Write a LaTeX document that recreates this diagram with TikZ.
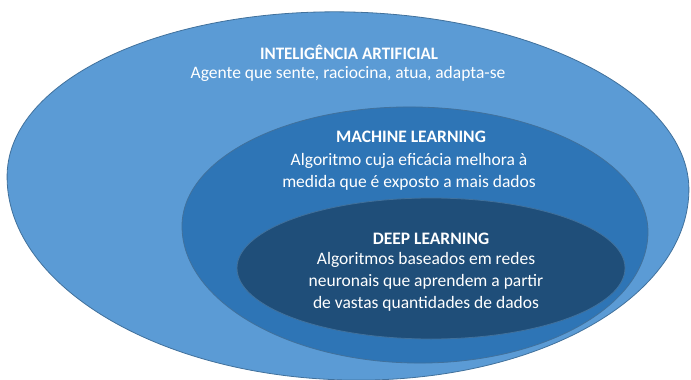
\documentclass[tikz,border=0pt]{standalone}
\usepackage{fontspec}
\setmainfont{Carlito}
\definecolor{aiblue}{HTML}{5B9BD5}
\definecolor{mlblue}{HTML}{2E75B6}
\definecolor{dlblue}{HTML}{1F4E79}
\definecolor{edgeblue}{HTML}{41719C}
\begin{document}
\begin{tikzpicture}[x=1pt,y=-1pt,
  zone/.style={draw=edgeblue, line width=0.8pt},
  head/.style={text=white, font=\fontsize{17.5}{20}\selectfont\bfseries, inner sep=0pt},
  body/.style={text=white, font=\fontsize{17.5}{22}\selectfont, align=center, inner sep=0pt}]
\useasboundingbox (0,0) rectangle (691,380);
\fill[white] (0,0) rectangle (691,380);
% outer
\path[zone, fill=aiblue, rotate around={-1.5:(348,183)}]
  (7,183) arc[start angle=180,end angle=360,x radius=341,y radius=171]
  arc[start angle=0,end angle=180,x radius=341,y radius=197] -- cycle;
% middle
\path[zone, fill=mlblue, rotate around={-1:(415,229)}]
  (182,229) arc[start angle=180,end angle=360,x radius=233,y radius=122]
  arc[start angle=0,end angle=180,x radius=233,y radius=134] -- cycle;
% inner
\path[zone, fill=dlblue]
  (237,268) arc[start angle=180,end angle=360,x radius=194,y radius=70]
  arc[start angle=0,end angle=180,x radius=194,y radius=71] -- cycle;
\node[head, xscale=0.97] (aihead) at (349,52) {INTELIGÊNCIA ARTIFICIAL};
\node[body] (aibody) at (348,74) {Agente que sente, raciocina, atua, adapta-se};
\node[head] (mlhead) at (411,137) {MACHINE LEARNING};
\node[body] (mlbody) at (409,171.5) {Algoritmo cuja eficácia melhora à\\medida que é exposto a mais dados};
\node[head] (dlhead) at (431,239) {DEEP LEARNING};
\node[body] (dlbody) at (426,281.5) {Algoritmos baseados em redes\\neuronais que aprendem a partir\\de vastas quantidades de dados};
\end{tikzpicture}
\end{document}
